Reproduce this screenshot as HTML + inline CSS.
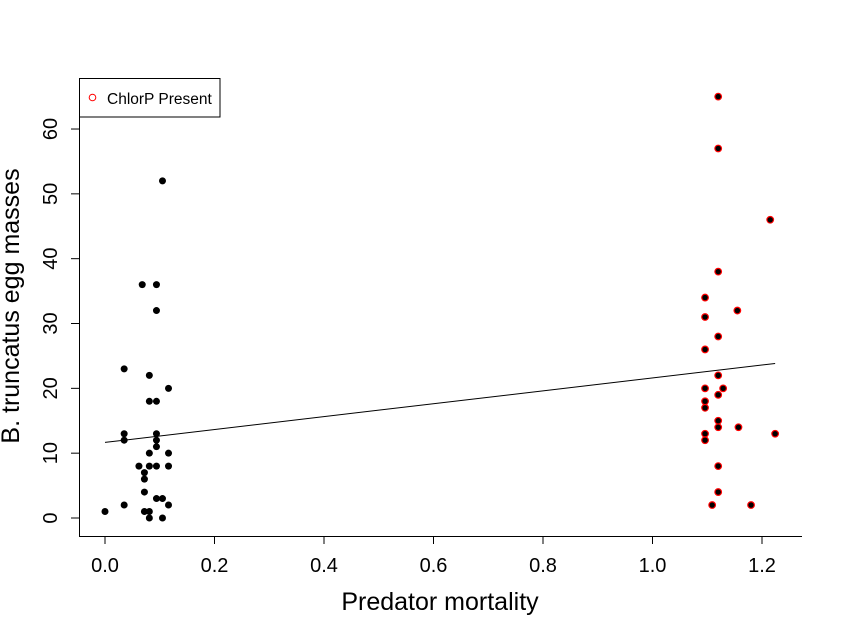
<!DOCTYPE html>
<html><head><meta charset="utf-8"><style>body{margin:0;background:#fff}svg{display:block;font-family:"Liberation Sans",Arial,sans-serif}</style></head>
<body>
<svg id="chart" width="843" height="634" viewBox="0 0 843 634" xmlns="http://www.w3.org/2000/svg">
<g id="axes"></g>
<g id="marks"></g>
<g>
<rect x="79.5" y="78.5" width="140.5" height="38.5" fill="#fff" stroke="#000" stroke-width="1"/>
<circle cx="92.5" cy="97.5" r="3.3" fill="none" stroke="#f00" stroke-width="1"/>
<text x="107" y="104" font-size="15.5">ChlorP Present</text>
</g>
<text x="440" y="610" font-size="25" text-anchor="middle">Predator mortality</text>
<text transform="translate(19,306) rotate(-90)" font-size="25" text-anchor="middle">B. truncatus egg masses</text>
</svg>
<script>
const blackX=[0.105,0.068,0.094,0.094,0.035,0.081,0.116,0.081,0.094,0.035,0.035,0.094,0.094,0.094,0.081,0.116,0.062,0.081,0.094,0.116,0.072,0.072,0.072,0.094,0.105,0.035,0.116,0.0,0.072,0.081,0.081,0.105];
const blackY=[52,36,36,32,23,22,20,18,18,13,12,13,12,11,10,10,8,8,8,8,7,6,4,3,3,2,2,1,1,1,0,0];
const redX=[1.120,1.120,1.215,1.120,1.096,1.155,1.096,1.120,1.096,1.120,1.096,1.129,1.120,1.096,1.096,1.120,1.120,1.157,1.096,1.096,1.224,1.120,1.120,1.109,1.180];
const redY=[65,57,46,38,34,32,31,28,26,22,20,20,19,18,17,15,14,14,13,12,13,8,4,2,2];
const xTicks=[0,0.2,0.4,0.6,0.8,1.0,1.2];
const xTickLabels=["0.0","0.2","0.4","0.6","0.8","1.0","1.2"];
const yTicks=[0,10,20,30,40,50,60];
const yTickLabels=["0","10","20","30","40","50","60"];
const NS="http://www.w3.org/2000/svg";
function sx(v){return 105+v*547.5;}
function sy(v){return 518-v*6.483;}
function mk(tag,attrs,parent){const e=document.createElementNS(NS,tag);for(const k in attrs)e.setAttribute(k,attrs[k]);parent.appendChild(e);return e;}
const axes=document.getElementById('axes'),marks=document.getElementById('marks');
let l=mk('line',{x1:79.5,y1:78,x2:79.5,y2:536.5,stroke:'#000'},axes);


l=mk('line',{x1:79,y1:536.5,x2:802,y2:536.5,stroke:'#000'},axes);


xTicks.forEach((v,i)=>{
 const t=mk('line',{x1:sx(v),y1:536.5,x2:sx(v),y2:544,stroke:'#000'},axes);
 
 
 const tx=mk('text',{x:sx(v),y:572,'font-size':20,'text-anchor':'middle'},axes);
 tx.textContent=xTickLabels[i];
 
 
});
yTicks.forEach((v,i)=>{
 const t=mk('line',{x1:71,y1:sy(v),x2:79.5,y2:sy(v),stroke:'#000'},axes);
 
 
 const tx=mk('text',{transform:`translate(57,${sy(v)}) rotate(-90)`,'font-size':20,'text-anchor':'middle'},axes);
 tx.textContent=yTickLabels[i];
 
 
});
blackX.forEach((x,i)=>{
 const c=mk('circle',{cx:sx(x),cy:sy(blackY[i]),r:3.5,fill:'#000'},marks);
 
 
});
redX.forEach((x,i)=>{
 const c=mk('circle',{cx:sx(x),cy:sy(redY[i]),r:3.3,fill:'#000',stroke:'#f00','stroke-width':1.2},marks);
 
 
});
const ax=blackX.concat(redX),ay=blackY.concat(redY);
const n=ax.length,mx=ax.reduce((a,b)=>a+b)/n,my=ay.reduce((a,b)=>a+b)/n;
let sxy=0,sxx=0;for(let i=0;i<n;i++){sxy+=(ax[i]-mx)*(ay[i]-my);sxx+=(ax[i]-mx)**2;}
const b=sxy/sxx,a=my-b*mx;
const x0=Math.min(...ax),x1=Math.max(...ax);
l=mk('line',{x1:sx(x0),y1:sy(a+b*x0),x2:sx(x1),y2:sy(a+b*x1),stroke:'#000','stroke-width':1},marks);


</script>
</body></html>
